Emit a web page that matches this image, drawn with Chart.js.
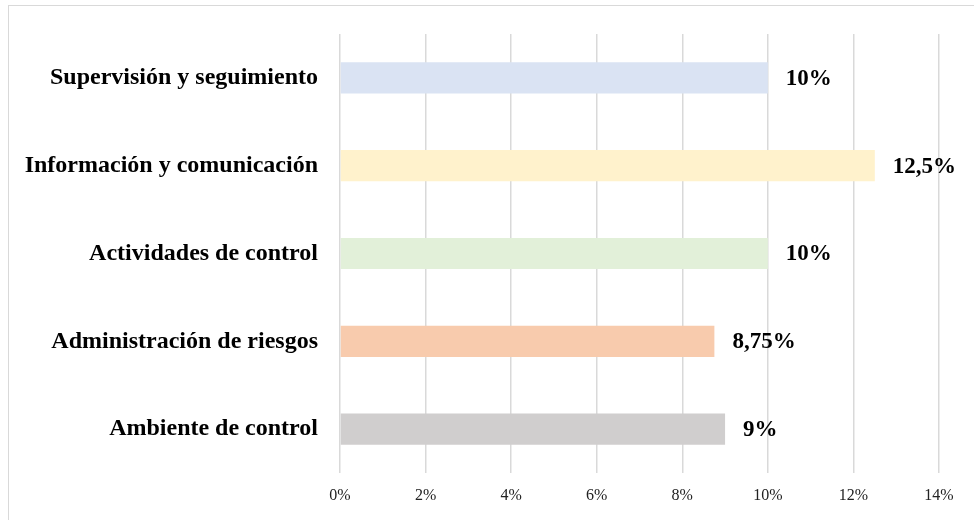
<!DOCTYPE html>
<html>
<head>
<meta charset="utf-8">
<script src="https://cdn.jsdelivr.net/npm/chart.js@4"></script>
<style>
  html, body { margin: 0; padding: 0; background: #fff; }
  #wrap { position: relative; width: 974px; height: 520px; overflow: hidden; }
  #frame { position: absolute; left: 8px; top: 5px; width: 1000px; height: 600px; border: 1.5px solid #d9d9d9; box-sizing: border-box; }
  canvas { position: absolute; left: 0; top: 0; }
</style>
</head>
<body>
<div id="wrap">
  <div id="frame"></div>
  <canvas id="chart" width="974" height="520"></canvas>
</div>
<script>
const categories = [
    "Supervisión y seguimiento",
    "Información y comunicación",
    "Actividades de control",
    "Administración de riesgos",
    "Ambiente de control"
];
const values = [10, 12.5, 10, 8.75, 9];
const barColors = ["#dae3f3", "#fff2cc", "#e2f0d9", "#f8cbad", "#d0cece"];
const xTicks = [0, 2, 4, 6, 8, 10, 12, 14];

const serif = "'Liberation Serif', 'Times New Roman', serif";

// writes the value next to the end of each bar
const valueLabels = {
    id: "valueLabels",
    afterDatasetsDraw(chart) {
        const ctx = chart.ctx;
        const meta = chart.getDatasetMeta(0);
        ctx.save();
        ctx.font = "bold 23px " + serif;
        ctx.fillStyle = "#000";
        ctx.textBaseline = "middle";
        ctx.textAlign = "left";
        meta.data.forEach((bar, i) => {
            const text = String(values[i]).replace(".", ",") + "%";
            ctx.fillText(text, bar.x + 18, bar.y + 1);
        });
        ctx.restore();
    }
};

new Chart(document.getElementById("chart").getContext("2d"), {
    type: "bar",
    data: {
        labels: categories,
        datasets: [{
            data: values,
            backgroundColor: barColors,
            borderWidth: 0,
            barPercentage: 0.355,
            categoryPercentage: 1
        }]
    },
    options: {
        indexAxis: "y",
        responsive: false,
        animation: false,
        layout: { padding: { left: 0, right: 35, top: 34, bottom: 0 } },
        plugins: {
            legend: { display: false },
            tooltip: { enabled: false }
        },
        scales: {
            x: {
                min: 0,
                max: 14,
                afterBuildTicks(scale) {
                    scale.ticks = xTicks.map(v => ({ value: v }));
                },
                afterFit(scale) { scale.height = 47; },
                ticks: {
                    callback: v => v + "%",
                    color: "#222",
                    font: { family: serif, size: 16 },
                    padding: 13,
                    maxRotation: 0
                },
                grid: { color: "#d9d9d9", lineWidth: 1.5, drawTicks: false },
                border: { display: false }
            },
            y: {
                afterFit(scale) { scale.width = 340; },
                ticks: {
                    color: "#000",
                    font: { family: serif, size: 24, weight: "bold" },
                    padding: 14
                },
                grid: { display: false },
                border: { display: false }
            }
        }
    },
    plugins: [valueLabels]
});
</script>
</body>
</html>
